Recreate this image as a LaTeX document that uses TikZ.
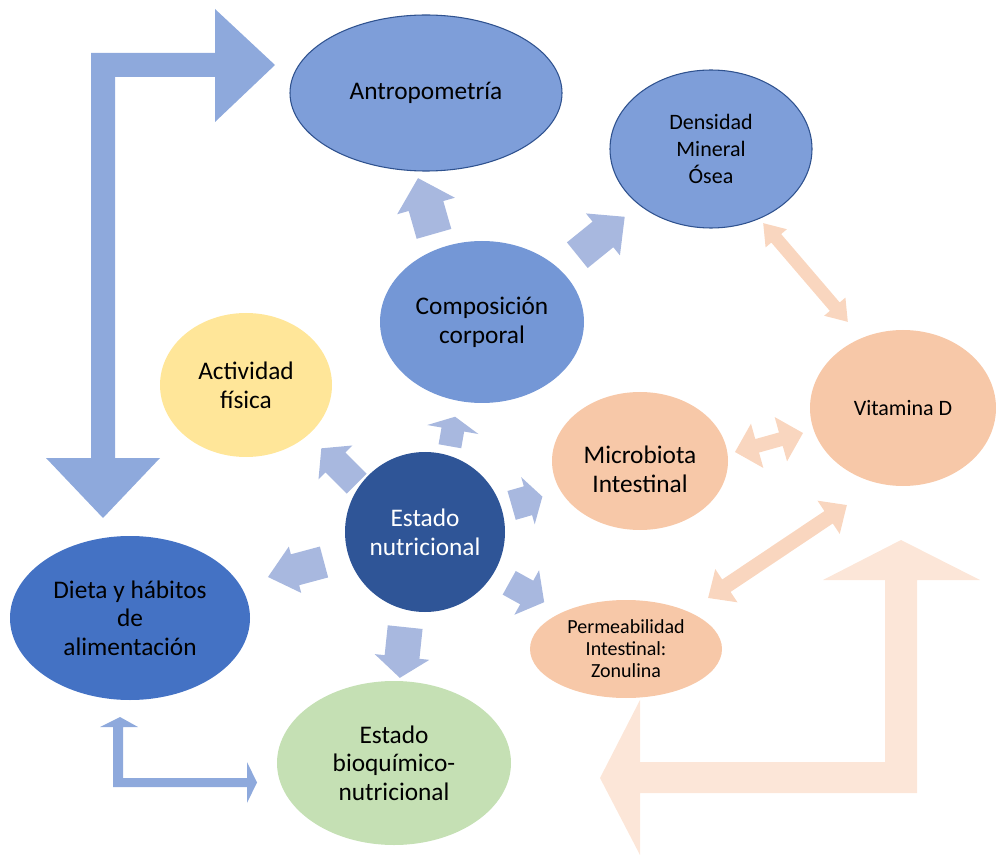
\documentclass[tikz,border=0pt]{standalone}
\usepackage{fontspec}
\setmainfont{Carlito}
\usetikzlibrary{shapes.geometric}
\definecolor{antroC}{HTML}{7E9ED9}
\definecolor{compC}{HTML}{7497D6}
\definecolor{outlC}{HTML}{2F528F}
\definecolor{actC}{HTML}{FFE699}
\definecolor{estC}{HTML}{2F5597}
\definecolor{dietaC}{HTML}{4472C4}
\definecolor{salC}{HTML}{F7C8A8}
\definecolor{bioC}{HTML}{C5E0B4}
\definecolor{smallArC}{HTML}{A8B8DF}
\definecolor{bigBlueC}{HTML}{8EA9DC}
\definecolor{dblSalC}{HTML}{F9D6BF}
\definecolor{bigSalC}{HTML}{FCE6D8}
% single block arrow: center, angle, length, shaft, head width, head length, colour
\newcommand\blkarr[7]{%
  \begin{scope}[shift={(#1)},rotate=#2]
    \fill[#7] ({-#3/2},{-#4/2}) -- ({#3/2-#6},{-#4/2}) -- ({#3/2-#6},{-#5/2}) -- ({#3/2},0)
      -- ({#3/2-#6},{#5/2}) -- ({#3/2-#6},{#4/2}) -- ({-#3/2},{#4/2}) -- cycle;
  \end{scope}}
% double block arrow
\newcommand\dblarr[7]{%
  \begin{scope}[shift={(#1)},rotate=#2]
    \fill[#7] ({-#3/2},0) -- ({-#3/2+#6},{-#5/2}) -- ({-#3/2+#6},{-#4/2}) -- ({#3/2-#6},{-#4/2})
      -- ({#3/2-#6},{-#5/2}) -- ({#3/2},0) -- ({#3/2-#6},{#5/2}) -- ({#3/2-#6},{#4/2})
      -- ({-#3/2+#6},{#4/2}) -- ({-#3/2+#6},{#5/2}) -- cycle;
  \end{scope}}
\begin{document}
\begin{tikzpicture}[x=0.75pt,y=-0.75pt,
  bub/.style={ellipse, inner sep=0pt, align=center, text=black,
    font=\fontsize{19}{21.5}\selectfont},
  midtxt/.style={font=\fontsize{16.5}{20}\selectfont},
  smalltxt/.style={font=\fontsize{15}{16.5}\selectfont}]
\useasboundingbox (0,0) rectangle (996,855);

% big elbow arrows
\fill[bigBlueC] (91,458) -- (91,53) -- (215,53) -- (215,9) -- (275,65) -- (215,122)
  -- (215,77) -- (115,77) -- (115,458) -- (160,458) -- (103,518) -- (46,458) -- cycle;
\fill[bigBlueC] (113,787) -- (113,727) -- (100,727) -- (120,717) -- (138,727) -- (123,727)
  -- (123,778) -- (247,778) -- (247,762) -- (257,782.5) -- (247,803) -- (247,787) -- cycle;
\fill[bigSalC] (917,793) -- (640,793) -- (640,855) -- (600,778) -- (640,700) -- (640,762)
  -- (885,762) -- (885,580) -- (823,580) -- (901,540) -- (980,580) -- (917,580) -- cycle;

% small blue arrows
\blkarr{426,206}{106}{58}{36}{60}{29}{smallArC}
\blkarr{601,236}{39}{61}{33}{54}{28}{smallArC}
\blkarr{452.5,431.5}{80}{30}{23}{52}{13}{smallArC}
\blkarr{339,466}{135}{50}{28}{48}{20}{smallArC}
\blkarr{296,569.5}{195}{58}{32}{48}{28}{smallArC}
\blkarr{402.5,652.5}{264}{51}{35}{55}{21}{smallArC}
\blkarr{527,501}{16}{32}{30}{49}{15}{smallArC}
\blkarr{526.7,592.5}{-29}{40}{27}{51}{20}{smallArC}

% salmon double arrows
\dblarr{805.5,272.5}{-49.4}{130}{13}{28}{20}{dblSalC}
\dblarr{769,442.5}{15.6}{70.6}{14}{46}{23}{dblSalC}
\dblarr{777.5,551.5}{33.8}{167}{15}{40}{22}{dblSalC}

% nodes
\node[bub, fill=antroC, draw=outlC, line width=0.8pt, minimum width=204pt, minimum height=117pt] (antro) at (426,93) {Antropometría};
\node[bub, midtxt, fill=antroC, draw=outlC, line width=0.8pt, minimum width=151.5pt, minimum height=118.5pt] (dmo) at (711,149) {Densidad\\Mineral\\Ósea};
\node[bub, fill=compC, minimum width=153pt, minimum height=121.5pt] (comp) at (482,322) {Composición\\corporal};
\node[bub, fill=actC, minimum width=129pt, minimum height=108pt] (act) at (246,385) {Actividad\\física};
\node[bub, midtxt, fill=salC, minimum width=139.5pt, minimum height=117pt] (vitd) at (903,408) {Vitamina D};
\node[bub, fill=salC, minimum width=132pt, minimum height=103.5pt] (micro) at (640,461) {};
\node[align=center, inner sep=0pt, text=black, font=\fontsize{19}{21.5}\selectfont] (microtxt) at (640,469) {Microbiota\\Intestinal};
\node[bub, fill=estC, text=white, minimum width=120pt, minimum height=120pt] (est) at (425,532) {Estado\\nutricional};
\node[bub, fill=dietaC, minimum width=180pt, minimum height=123pt] (dieta) at (130,618) {Dieta y hábitos\\de\\alimentación};
\node[bub, smalltxt, fill=salC, minimum width=144pt, minimum height=73.5pt] (perm) at (626,649) {Permeabilidad\\Intestinal:\\Zonulina};
\node[bub, fill=bioC, minimum width=175.5pt, minimum height=123pt] (bioq) at (394,763) {Estado\\bioquímico-\\nutricional};
\end{tikzpicture}
\end{document}
